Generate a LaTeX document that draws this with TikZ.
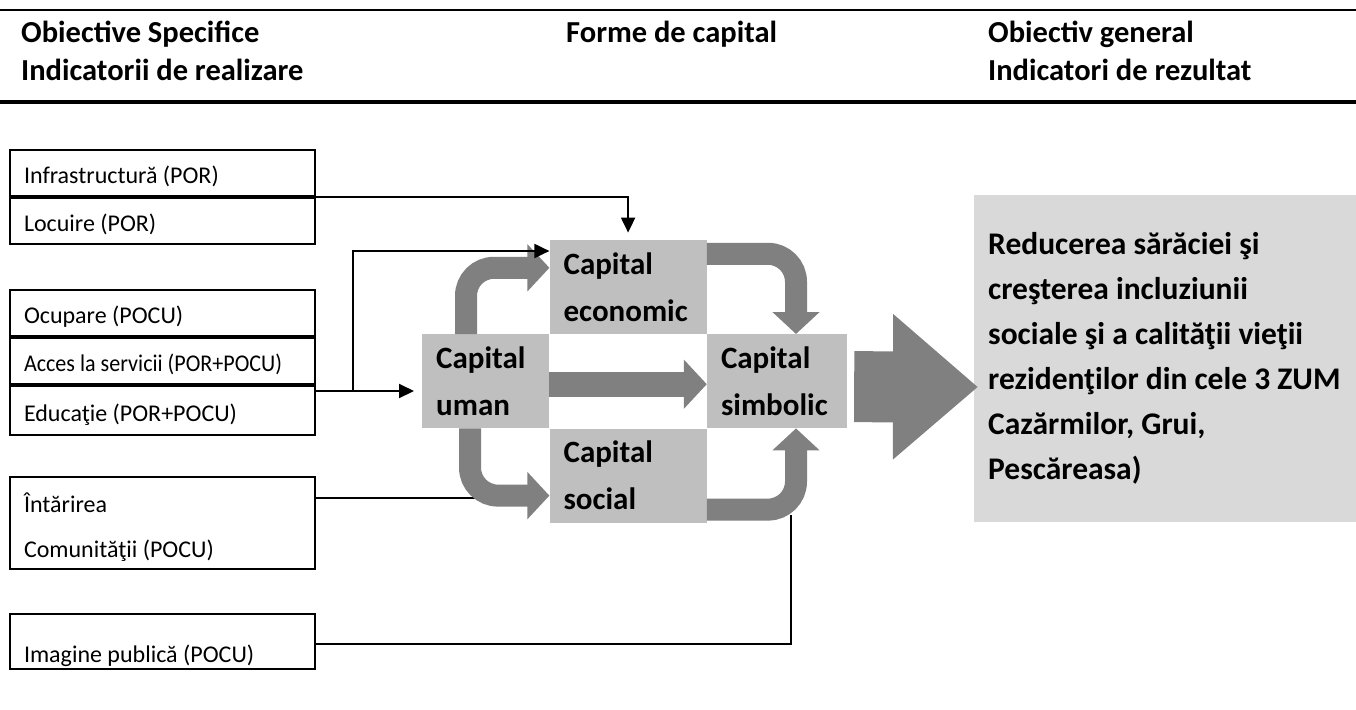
\documentclass[tikz,border=0pt]{standalone}
\usepackage{fontspec}
\usepackage{graphicx}
\setmainfont{Carlito}
\usetikzlibrary{positioning,arrows.meta}

\definecolor{capfill}{HTML}{BFBFBF}
\definecolor{flowgray}{HTML}{808080}
\definecolor{goalfill}{HTML}{D9D9D9}

\begin{document}
\begin{tikzpicture}[
  x=1pt,y=-1pt,
  every node/.style={inner sep=0pt},
  headtext/.style={anchor=base west,font=\fontsize{30.5}{36}\selectfont\bfseries},
  rowbox/.style={draw,line width=2pt,anchor=north west,text width=277pt,inner xsep=14pt,inner ysep=0pt,
    align=flush left,text height=33pt,text depth=13pt,font=\fontsize{24}{45}\selectfont},
  capbox/.style={fill=capfill,text width=#1,inner xsep=14pt,minimum height=94pt,align=flush left,
    font=\fontsize{31}{47}\selectfont\bfseries},
  conn/.style={line width=2pt},
  blackhead/.style={-{Triangle[length=15pt,width=14pt]}},
  grayflow/.style={draw=flowgray,line width=22pt,rounded corners=28pt,-{Triangle[length=22pt,width=46pt]}},
  ]

  \useasboundingbox (0,0) rectangle (1356,709);

  % header
  \draw[line width=2pt] (0,10) -- (1356,10);
  \draw[line width=4pt] (0,102) -- (1356,102);
  \node[headtext] (obj-spec) at (21,42) {Obiective Specifice};
  \node[headtext] (ind-real) at (21,80) {Indicatorii de realizare};
  \node[headtext] (forme) at (566,42) {Forme de capital};
  \node[headtext] (obj-gen) at (988,42) {Obiectiv general};
  \node[headtext] (ind-rez) at (988,80) {Indicatori de rezultat};

  % objective boxes
  \node[rowbox] (infra) at (9,149) {Infrastructură (POR)};
  \node[rowbox,below=0pt of infra] (locuire) {Locuire (POR)};

  \node[rowbox] (ocupare) at (9,289) {Ocupare (POCU)};
  \node[rowbox,below=0pt of ocupare] (acces) {\scalebox{0.92}[1]{Acces la servicii (POR+POCU)}};
  \node[rowbox,below=0pt of acces,text height=35pt,text depth=14pt] (educ) {Educaţie (POR+POCU)};

  \node[rowbox,text height=35pt,text depth=57pt] (intarire) at (9,476) {Întărirea\\Comunităţii (POCU)};
  \node[rowbox,text height=48pt,text depth=7pt] (imagine) at (9,613) {Imagine publică (POCU)};

  % forms of capital
  \node[capbox=99pt,anchor=north west] (uman) at (422,334) {Capital\\uman};
  \node[capbox=129pt,anchor=south west] (econ) at (uman.north east) {Capital\\economic};
  \node[capbox=129pt,anchor=north west] (social) at (uman.south east) {Capital\\social};
  \node[capbox=112pt,anchor=north west] (simbolic) at (econ.south east) {Capital\\simbolic};

  % general objective
  \node[fill=goalfill,anchor=north west,minimum width=382pt,minimum height=327pt,text width=372pt,
    inner xsep=14pt,align=flush left,font=\fontsize{31.5}{45}\selectfont\bfseries] (goal) at (974,195)
    {Reducerea sărăciei şi\\creşterea incluziunii\\sociale şi a calităţii vieţii\\rezidenţilor din cele 3 ZUM\\Cazărmilor, Grui,\\Pescăreasa)};

  % connectors under the flows
  \coordinate (com-end) at (476,498);
  \draw[conn] (intarire.east |- com-end) -- (com-end);
  \coordinate (pub-turn) at (791,644);
  \coordinate (pub-end) at (791,515);
  \draw[conn] (imagine.east |- pub-turn) -- (pub-turn) -- (pub-end);

  % capital flows
  \draw[grayflow] ([xshift=44pt]uman.north west) |- ([yshift=19pt]econ.west);
  \draw[grayflow] ([xshift=48pt]uman.south west) |- ([yshift=-20pt]social.west);
  \draw[grayflow] ([yshift=33pt]econ.east) -| ([xshift=19pt]simbolic.north);
  \draw[grayflow] ([yshift=-34pt]social.east) -| ([xshift=19pt]simbolic.south);
  \draw[grayflow,line width=25pt,-{Triangle[length=23pt,width=48pt]}]
    ([yshift=-3pt]uman.east) -- ([yshift=-3pt]simbolic.west);
  \coordinate (big-tip) at (978,387);
  \draw[draw=flowgray,line width=71pt,-{Triangle[length=85pt,width=140pt]}]
    ([xshift=7pt,yshift=-5.5pt]simbolic.east) -- (big-tip);

  % connectors on top
  \draw[conn,blackhead,shorten >=7pt] (infra.south east) -| (econ.north);
  \coordinate (edu-split) at (353,391);
  \coordinate (edu-top) at (353,251);
  \draw[conn] (educ.east |- edu-split) -- (edu-split);
  \draw[conn,blackhead,shorten >=8pt] (edu-split) -- (uman.west |- edu-split);
  \draw[conn,blackhead] (edu-split) -- (edu-top) -- (econ.west |- edu-top);

\end{tikzpicture}
\end{document}
